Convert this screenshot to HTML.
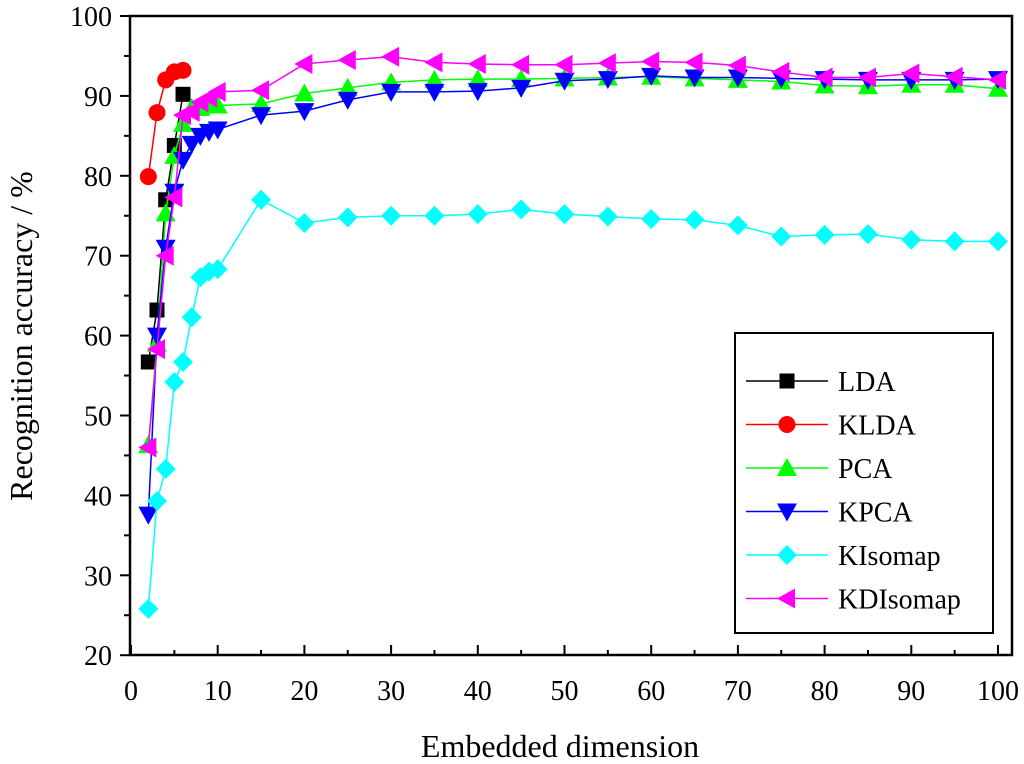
<!DOCTYPE html>
<html><head><meta charset="utf-8"><style>
html,body{margin:0;padding:0;background:#fff;}
svg{display:block;font-family:"Liberation Serif",serif;}
</style></head><body>
<svg id="chart" width="1024" height="764" viewBox="0 0 1024 764"></svg>
<script>
const dims=[2,3,4,5,6,7,8,9,10,15,20,25,30,35,40,45,50,55,60,65,70,75,80,85,90,95,100];
const ldaDims=[2,3,4,5,6];
const ldaVals=[56.7,63.2,77,83.8,90.2];
const kldaVals=[79.9,87.9,92,93,93.2];
const pcaVals=[46.3,59,75.3,82.5,86.5,88.5,88.5,89,88.8,89,90.3,91,91.7,92,92.1,92.1,92.2,92.3,92.4,92.2,92,91.8,91.3,91.2,91.4,91.4,90.9];
const kpcaVals=[37.6,60,71,78,82,84,85,85.5,85.8,87.6,88.1,89.5,90.5,90.5,90.6,91,91.9,92.1,92.5,92.3,92.3,92.2,92.1,92,92,92,92.1];
const kisomapVals=[25.8,39.3,43.3,54.2,56.7,62.3,67.3,68,68.3,77,74.1,74.8,75,75,75.2,75.8,75.2,74.9,74.6,74.5,73.8,72.4,72.6,72.7,72,71.8,71.8];
const kdisomapVals=[46,58.3,70,77.3,87.6,88,89.2,89.8,90.5,90.7,94,94.5,94.9,94.2,94,93.9,93.9,94.1,94.3,94.2,93.8,93,92.3,92.3,92.8,92.4,92];
const xTicks=[0,10,20,30,40,50,60,70,80,90,100];
const yTicks=[20,30,40,50,60,70,80,90,100];

const NS="http://www.w3.org/2000/svg";
const svg=document.getElementById('chart');
const L=130,R=1012,T=16,B=655;
const X=v=>131+v*8.67;
const Y=v=>16+(100-v)*7.99;
function mk(tag,attrs,parent){const e=document.createElementNS(NS,tag);for(const k in attrs)e.setAttribute(k,attrs[k]);(parent||svg).appendChild(e);return e;}

const frame=mk('rect',{x:L,y:T,width:R-L,height:B-T,fill:'none',stroke:'#000','stroke-width':2.5});



xTicks.forEach(t=>{
  const l=mk('line',{x1:X(t),x2:X(t),y1:B,y2:B-10,stroke:'#000','stroke-width':2});
  
  
  if(t<100){const m=mk('line',{x1:X(t+5),x2:X(t+5),y1:B,y2:B-5,stroke:'#000','stroke-width':2});
  
  }
  const tx=mk('text',{x:X(t),y:700,'text-anchor':'middle','font-size':28});
  tx.textContent=t;
  
  
});
yTicks.forEach(t=>{
  const l=mk('line',{x1:L,x2:L-10,y1:Y(t),y2:Y(t),stroke:'#000','stroke-width':2});
  
  
  if(t<100){const m=mk('line',{x1:L,x2:L-6,y1:Y(t+5),y2:Y(t+5),stroke:'#000','stroke-width':2});
  
  }
  const tx=mk('text',{x:112,y:Y(t)+10,'text-anchor':'end','font-size':28});
  tx.textContent=t;
  
  
});
const xt=mk('text',{x:560,y:757,'text-anchor':'middle','font-size':32});
xt.textContent='Embedded dimension';


const yt=mk('text',{x:0,y:0,'text-anchor':'middle','font-size':32,transform:'translate(32,336) rotate(-90)'});
yt.textContent='Recognition accuracy / %';



function marker(type,cx,cy,color,parent){
  const s=10;
  if(type==='square')return mk('rect',{x:cx-7.5,y:cy-7.5,width:15,height:15,fill:color},parent);
  if(type==='circle')return mk('circle',{cx:cx,cy:cy,r:8.5,fill:color},parent);
  if(type==='up')return mk('polygon',{points:`${cx},${cy-s} ${cx-s},${cy+s*0.8} ${cx+s},${cy+s*0.8}`,fill:color},parent);
  if(type==='down')return mk('polygon',{points:`${cx},${cy+s} ${cx-s},${cy-s*0.8} ${cx+s},${cy-s*0.8}`,fill:color},parent);
  if(type==='diamond')return mk('polygon',{points:`${cx},${cy-s} ${cx+s},${cy} ${cx},${cy+s} ${cx-s},${cy}`,fill:color},parent);
  if(type==='left')return mk('polygon',{points:`${cx-s},${cy} ${cx+s*0.8},${cy-s} ${cx+s*0.8},${cy+s}`,fill:color},parent);
}
const series=[
  {name:'LDA',xs:ldaDims,ys:ldaVals,color:'#000',m:'square',key:'lda'},
  {name:'KLDA',xs:ldaDims,ys:kldaVals,color:'#ff0000',m:'circle',key:'klda'},
  {name:'PCA',xs:dims,ys:pcaVals,color:'#00ff00',m:'up',key:'pca'},
  {name:'KPCA',xs:dims,ys:kpcaVals,color:'#0000ff',m:'down',key:'kpca'},
  {name:'KIsomap',xs:dims,ys:kisomapVals,color:'#00ffff',m:'diamond',key:'kisomap'},
  {name:'KDIsomap',xs:dims,ys:kdisomapVals,color:'#ff00ff',m:'left',key:'kdisomap'}
];
series.forEach(s=>{
  const g=mk('g',{});
  
  
  const pts=s.xs.map((x,i)=>X(x)+','+Y(s.ys[i])).join(' ');
  const pl=mk('polyline',{points:pts,fill:'none',stroke:s.color,'stroke-width':1.5},g);
  
  
  s.xs.forEach((x,i)=>{
    const m=marker(s.m,X(x),Y(s.ys[i]),s.color,g);
    
    
  });
});

const lg=mk('g',{});


const lb=mk('rect',{x:735,y:333,width:258,height:300,fill:'#fff',stroke:'#000','stroke-width':2},lg);


series.forEach((s,i)=>{
  const y=381+i*43.5;
  const e=mk('g',{},lg);
  
  
  mk('line',{x1:746,x2:828,y1:y,y2:y,stroke:s.color,'stroke-width':1.5},e);
  marker(s.m,787,y,s.color,e);
  const t=mk('text',{x:838,y:y+10,'font-size':28},e);
  t.textContent=s.name;
});
</script>
</body></html>
